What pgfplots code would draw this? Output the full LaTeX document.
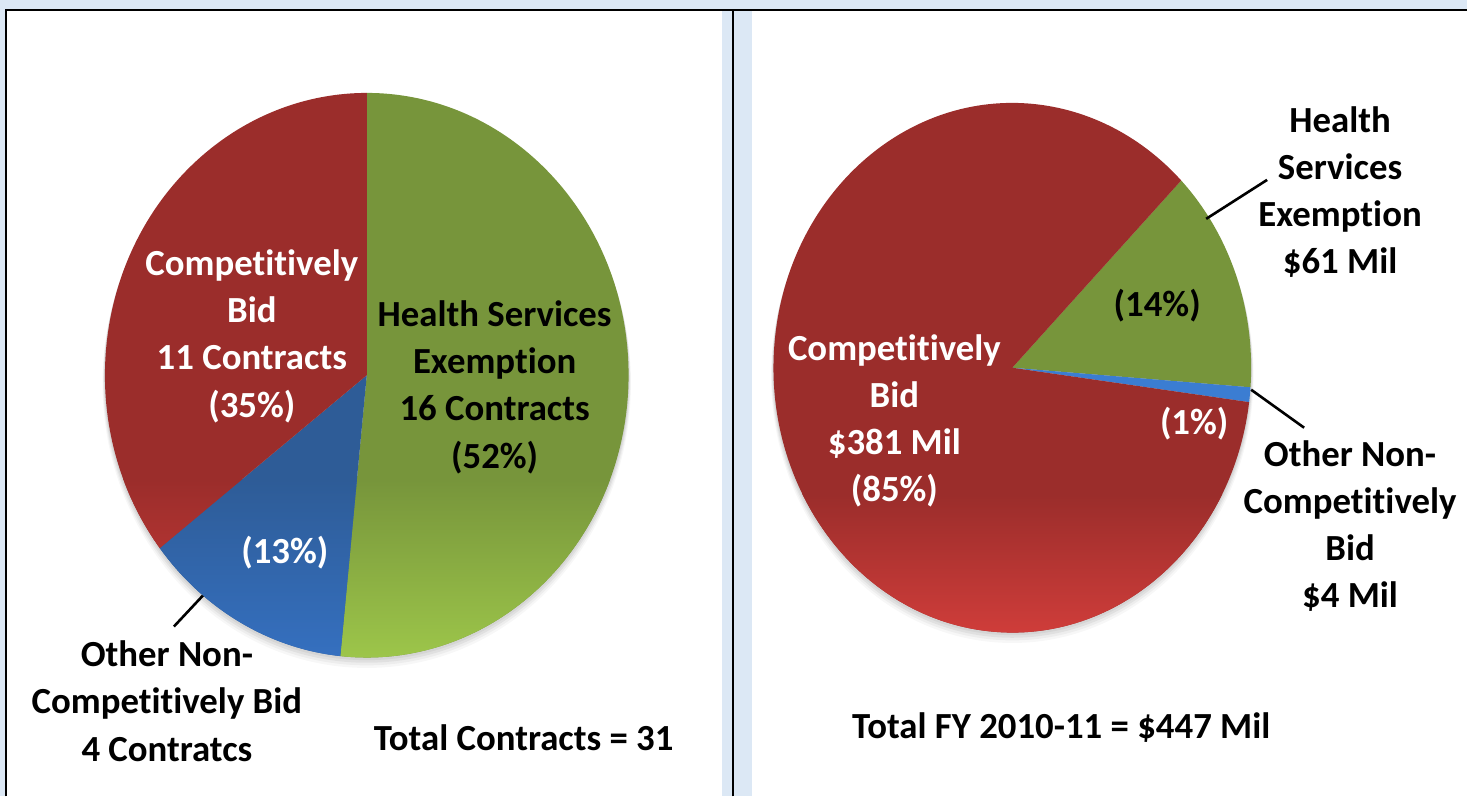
\documentclass[border=0pt]{standalone}
\usepackage{fontspec}
\setmainfont{Carlito}[Ligatures={CommonOff,ContextualOff}]
\usepackage{pgfplots}
\pgfplotsset{compat=1.18}
\definecolor{bgblue}{HTML}{DCE8F5}
\definecolor{pred}{HTML}{9B2D2B}
\definecolor{predlight}{HTML}{CF3D3A}
\definecolor{pgreen}{HTML}{77953B}
\definecolor{pgreenlight}{HTML}{9DC64A}
\definecolor{pblue}{HTML}{2E5C97}
\definecolor{pbluelight}{HTML}{3570C0}
\definecolor{pbluetwo}{HTML}{3B7DD2}
\newcommand\lbl{\fontsize{18.4}{23.6}\selectfont\bfseries}
% wedge path: center x, center y (axis units), radii (pt), start, end angle
\newcommand\piewedge[6]{(axis cs:#1,#2) -- ++(#5:#3 and #4) arc[start angle=#5,end angle=#6,x radius=#3,y radius=#4] -- cycle}
% wedge in base colour #7, lower part shaded to #8 inside the rectangle #9
\newcommand\slice[9]{%
  \fill[#7] \piewedge{#1}{#2}{#3}{#4}{#5}{#6};
  \begin{scope}
  \clip \piewedge{#1}{#2}{#3}{#4}{#5}{#6};
  \shade[top color=#7,bottom color=#8] #9;
  \end{scope}}
% soft shadow under a pie: cx, cy, rx, ry
\newcommand\pieshadow[4]{%
  \fill[black,opacity=0.05] (axis cs:#1,#2-2) ellipse [x radius=#3+0.3pt,y radius=#4+0.3pt];
  \fill[black,opacity=0.05] (axis cs:#1,#2-4) ellipse [x radius=#3+0.6pt,y radius=#4+0.6pt];
  \fill[black,opacity=0.04] (axis cs:#1,#2-6) ellipse [x radius=#3+0.9pt,y radius=#4+0.9pt];
  \fill[black,opacity=0.03] (axis cs:#1,#2-8) ellipse [x radius=#3+1.2pt,y radius=#4+1.2pt];}
% left pie: contracts (16, 4, 11 of 31), first slice at 12 o'clock
\pgfmathsetmacro\La{90}
\pgfmathsetmacro\Lb{\La-360*(16/31)}
\pgfmathsetmacro\Lc{\Lb-360*(4/31)}
\pgfmathsetmacro\Ld{\La-360}
% right pie: dollars (61, 4, 381 of 446), first slice rotated 45 degrees
\pgfmathsetmacro\Ra{45}
\pgfmathsetmacro\Rb{\Ra-360*(61/446)}
\pgfmathsetmacro\Rc{\Rb-360*(4/446)}
\pgfmathsetmacro\Rd{\Ra-360}
\begin{document}
\begin{tikzpicture}
\begin{axis}[width=734pt,height=398.5pt,scale only axis,hide axis,
  xmin=0,xmax=1468,ymin=0,ymax=797,clip=false]
% panels
\fill[bgblue] (axis cs:0,0) rectangle (axis cs:1468,797);
\fill[white] (axis cs:7,0) rectangle (axis cs:722,787);
\fill[white] (axis cs:753,0) rectangle (axis cs:1468,787);
\draw[black,line width=1pt] (axis cs:6,0) -- (axis cs:6,787) -- (axis cs:1468,787);
\draw[black,line width=1pt] (axis cs:733,0) -- (axis cs:733,787);

% ---- left pie
\pieshadow{367}{421.5}{131pt}{141.25pt}
\slice{367}{421.5}{131pt}{141.25pt}{\La}{\Lb}{pgreen}{pgreenlight}{(axis cs:105,137) rectangle (axis cs:629,317)}
\slice{367}{421.5}{131pt}{141.25pt}{\Lb}{\Lc}{pblue}{pbluelight}{(axis cs:105,137) rectangle (axis cs:629,317)}
\slice{367}{421.5}{131pt}{141.25pt}{\Lc}{\Ld}{pred}{predlight}{(axis cs:105,137) rectangle (axis cs:629,317)}
\draw[black,line width=1.3pt] (axis cs:203,201) -- (axis cs:174,170);

\node[align=center,font=\lbl,text=white] at (axis cs:252,460.5) {Competitively\\Bid\\11 Contracts\\(35\%)};
\node[align=center,font=\lbl,text=black] at (axis cs:495,409.5) {Health Services\\Exemption\\16 Contracts\\(52\%)};
\node[font=\lbl,text=white] at (axis cs:285,244) {(13\%)};
\node[align=center,font=\lbl,text=black] at (axis cs:167,95.3) {Other Non-\\Competitively Bid\\4 Contratcs};
\node[font=\lbl,text=black] at (axis cs:524,59) {Total Contracts = 31};

% ---- right pie
\pieshadow{1013}{429}{119.5pt}{132.5pt}
\slice{1013}{429}{119.5pt}{132.5pt}{\Ra}{\Rb}{pgreen}{pgreenlight}{(axis cs:774,163) rectangle (axis cs:1252,302)}
\slice{1013}{429}{119.5pt}{132.5pt}{\Rb}{\Rc}{pbluetwo}{pbluetwo}{(axis cs:774,163) rectangle (axis cs:1252,302)}
\slice{1013}{429}{119.5pt}{132.5pt}{\Rc}{\Rd}{pred}{predlight}{(axis cs:774,163) rectangle (axis cs:1252,302)}
\draw[black,line width=1.3pt] (axis cs:1207,578) -- (axis cs:1268,617);
\draw[black,line width=1.3pt] (axis cs:1252,407) -- (axis cs:1305,369);

\node[align=center,font=\lbl,text=black] at (axis cs:1341,605) {Health\\Services\\Exemption\\\$61 Mil};
\node[font=\lbl,text=black] at (axis cs:1158,491) {(14\%)};
\node[align=center,font=\lbl,text=white] at (axis cs:895,376) {Competitively\\Bid\\\$381 Mil\\(85\%)};
\node[font=\lbl,text=white] at (axis cs:1195,373) {(1\%)};
\node[align=center,font=\lbl,text=black] at (axis cs:1351,270.5) {Other Non-\\Competitively\\Bid\\\$4 Mil};
\node[font=\lbl,text=black] at (axis cs:1062,69) {Total FY 2010-11 = \$447 Mil};
\end{axis}
\end{tikzpicture}
\end{document}
